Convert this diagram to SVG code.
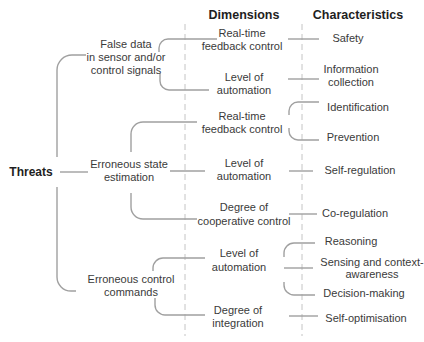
<svg xmlns="http://www.w3.org/2000/svg" width="424" height="342" viewBox="0 0 424 342">
<style>
text{font-family:"Liberation Sans",Arial,sans-serif;font-size:11px;fill:#3a3a3a;text-anchor:middle}
.h{font-weight:bold;font-size:12.5px;fill:#1e1e1e}
.t{font-weight:bold;font-size:12px;fill:#1e1e1e}
.c{fill:none;stroke:#a0a0a0;stroke-width:1.4}
.d{fill:none;stroke:#c4c4c4;stroke-width:1;stroke-dasharray:6 4}
</style>
<rect width="424" height="342" fill="#fff"/>
<g id="guides">
<path class="d" d="M185,24V336"/>
<path class="d" d="M302,24V336"/>
</g>
<g id="connectors">
<path class="c" d="M57,157V70A15,15 0 0 1 72,55H86"/>
<path class="c" d="M57,187V277A14,14 0 0 0 71,291H76"/>
<path class="c" d="M60,172H88"/>
<path class="c" d="M159,52V48A9,9 0 0 1 168,39H217"/>
<path class="c" d="M160,73V81A9,9 0 0 0 169,90H209"/>
<path class="c" d="M131,152V134A12,12 0 0 1 143,122H197"/>
<path class="c" d="M131,193V207A12,12 0 0 0 143,219H197"/>
<path class="c" d="M170,171H205"/>
<path class="c" d="M153,271V268A10,10 0 0 1 163,258H205"/>
<path class="c" d="M155,298V305A10,10 0 0 0 165,315H205"/>
<path class="c" d="M288,39H319"/>
<path class="c" d="M288,79H319"/>
<path class="c" d="M289,115V111A9,9 0 0 1 298,102H319"/>
<path class="c" d="M289,128V131A9,9 0 0 0 298,140H319"/>
<path class="c" d="M289,171H313"/>
<path class="c" d="M289,214H317"/>
<path class="c" d="M284,257V253A10,10 0 0 1 294,243H315"/>
<path class="c" d="M284,268H313"/>
<path class="c" d="M284,282V285A10,10 0 0 0 294,295H315"/>
<path class="c" d="M289,316H318"/>
</g>
<g id="header-dimensions"><text class="h" x="244" y="19">Dimensions</text></g>
<g id="header-characteristics"><text class="h" x="358" y="19">Characteristics</text></g>
<g id="threats"><text class="t" x="31" y="176">Threats</text></g>
<g id="threat-false-data"><text x="126" y="48">False data</text><text x="126" y="61">in sensor and/or</text><text x="126" y="74">control signals</text></g>
<g id="threat-state-estimation"><text x="129" y="168">Erroneous state</text><text x="129" y="181">estimation</text></g>
<g id="threat-control-commands"><text x="131" y="283">Erroneous control</text><text x="131" y="296">commands</text></g>
<g id="dim-1"><text x="242" y="37">Real-time</text><text x="242" y="50">feedback control</text></g>
<g id="dim-2"><text x="244" y="81">Level of</text><text x="244" y="94">automation</text></g>
<g id="dim-3"><text x="242" y="120">Real-time</text><text x="242" y="133">feedback control</text></g>
<g id="dim-4"><text x="244" y="167">Level of</text><text x="244" y="180">automation</text></g>
<g id="dim-5"><text x="244" y="211">Degree of</text><text x="244" y="225">cooperative control</text></g>
<g id="dim-6"><text x="239" y="257">Level of</text><text x="239" y="271">automation</text></g>
<g id="dim-7"><text x="238" y="314">Degree of</text><text x="238" y="327">integration</text></g>
<g id="char-safety"><text x="348" y="42">Safety</text></g>
<g id="char-information"><text x="351" y="73">Information</text><text x="351" y="86">collection</text></g>
<g id="char-identification"><text x="358" y="111">Identification</text></g>
<g id="char-prevention"><text x="353" y="141">Prevention</text></g>
<g id="char-self-regulation"><text x="360" y="174">Self-regulation</text></g>
<g id="char-co-regulation"><text x="355" y="217">Co-regulation</text></g>
<g id="char-reasoning"><text x="351" y="245">Reasoning</text></g>
<g id="char-sensing"><text x="372" y="266">Sensing and context-</text><text x="372" y="278">awareness</text></g>
<g id="char-decision"><text x="364" y="297">Decision-making</text></g>
<g id="char-self-optimisation"><text x="366" y="322">Self-optimisation</text></g>
</svg>
